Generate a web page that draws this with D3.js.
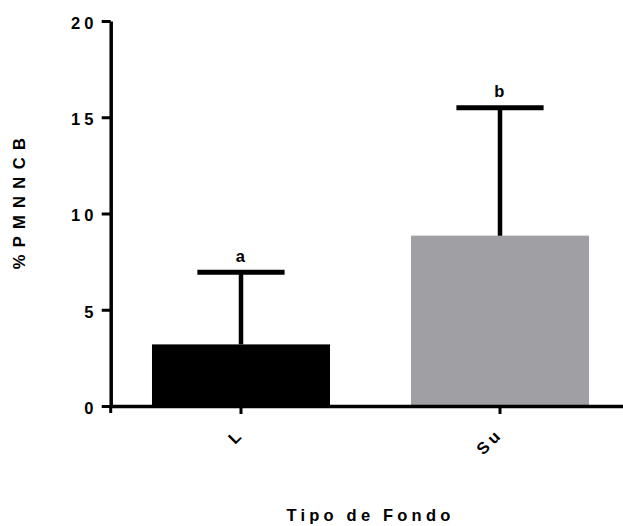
<!DOCTYPE html>
<html>
<head>
<meta charset="utf-8">
<script src="https://cdn.jsdelivr.net/npm/d3@7"></script>
<style>
html,body{margin:0;padding:0;background:#fff;}
svg text{font-family:"Liberation Sans",Arial,sans-serif;font-weight:bold;font-size:16.5px;letter-spacing:4.2px;fill:#000;}
</style>
</head>
<body>
<svg id="chart" width="623" height="526"></svg>
<script>
const categories = ["L", "Su"];
const means = [3.2, 8.85];
const upper = [6.95, 15.5];
const letters = ["a", "b"];
const colors = ["#000000", "#a0a0a4"];
const yTicks = [0, 5, 10, 15, 20];

const svg = d3.select("#chart");
const x = d3.scaleBand().domain(categories).range([111.5, 629.5]).paddingInner(0.3127).paddingOuter(0.1563);
const y = d3.scaleLinear().domain([0, 20]).range([406, 21]);

// bars
svg.selectAll("rect.bar").data(categories).enter().append("rect")
  .attr("x", d => x(d)).attr("width", x.bandwidth())
  .attr("y", (d,i) => y(means[i])).attr("height", (d,i) => y(0) - y(means[i]))
  .attr("fill", (d,i) => colors[i]);

// error bars
const cx = d => x(d) + x.bandwidth()/2;
const capHalf = x.bandwidth() * 0.245;
svg.selectAll("line.err").data(categories).enter().append("line")
  .attr("x1", cx).attr("x2", cx)
  .attr("y1", (d,i) => y(means[i])).attr("y2", (d,i) => y(upper[i]))
  .attr("stroke", "#000").attr("stroke-width", 4.5);
svg.selectAll("line.cap").data(categories).enter().append("line")
  .attr("x1", d => cx(d) - capHalf).attr("x2", d => cx(d) + capHalf)
  .attr("y1", (d,i) => y(upper[i])).attr("y2", (d,i) => y(upper[i]))
  .attr("stroke", "#000").attr("stroke-width", 5);
svg.selectAll("text.sig").data(categories).enter().append("text")
  .attr("x", d => cx(d) + 1.5).attr("y", (d,i) => y(upper[i]) - 10.5)
  .attr("text-anchor", "middle").text((d,i) => letters[i]);

// y axis
const ya = svg.append("g").attr("transform", `translate(${x.range()[0] - 0.8},0)`)
  .call(d3.axisLeft(y).tickValues(yTicks).tickSize(9).tickSizeOuter(0).tickPadding(12));
ya.select(".domain").attr("stroke-width", 3.5);
ya.selectAll(".tick line").attr("stroke-width", 3);
ya.attr("font-size", null).attr("font-family", null);
ya.selectAll(".tick text").attr("dy", "0.45em").attr("x", -13);

// x axis
const xa = svg.append("g").attr("transform", `translate(0,${y(0)})`)
  .call(d3.axisBottom(x).tickSize(8).tickSizeOuter(0));
xa.select(".domain").attr("stroke-width", 3.5);
xa.selectAll(".tick line").attr("stroke-width", 3);
xa.attr("font-size", null).attr("font-family", null);
xa.selectAll(".tick text")
  .attr("y", 0).attr("dy", 0)
  .attr("text-anchor", "end")
  .attr("transform", "translate(4,29) rotate(-45)");
// stub of y axis below x axis
svg.append("line").attr("x1", x.range()[0] - 0.8).attr("x2", x.range()[0] - 0.8)
  .attr("y1", y(0)).attr("y2", y(0) + 7).attr("stroke", "#000").attr("stroke-width", 3);

// axis titles
svg.append("text").attr("x", (cx("L") + cx("Su"))/2).attr("y", 521)
  .attr("text-anchor", "middle").text("Tipo de Fondo");
svg.append("text").attr("transform", "translate(25,203) rotate(-90)")
  .attr("text-anchor", "middle").style("letter-spacing", "1.4px").text("% P M N N C B");
</script>
</body>
</html>
